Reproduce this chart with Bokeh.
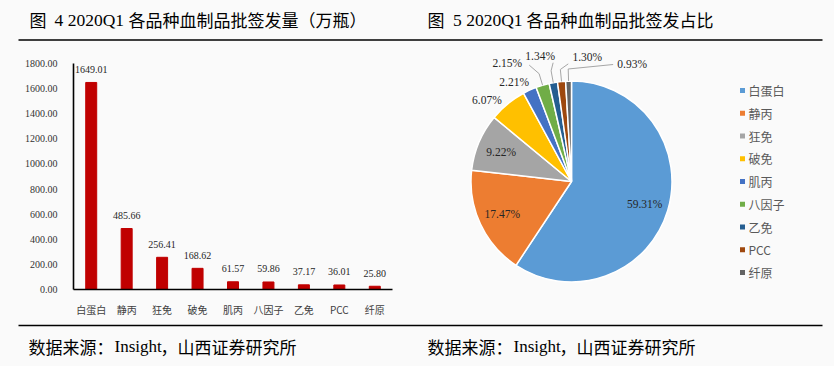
import math
from bokeh.plotting import figure
from bokeh.layouts import column, row
from bokeh.models import Range1d, FactorRange, FixedTicker, NumeralTickFormatter
from bokeh.core.properties import value
from bokeh.embed import file_html
from bokeh.resources import INLINE

# ---------------- data ----------------
categories = ["白蛋白", "静丙", "狂免", "破免", "肌丙", "八因子", "乙免", "PCC", "纤原"]
volumes = [1649.01, 485.66, 256.41, 168.62, 61.57, 59.86, 37.17, 36.01, 25.80]
shares = [59.31, 17.47, 9.22, 6.07, 2.21, 2.15, 1.34, 1.30, 0.93]
y_ticks = [0, 200, 400, 600, 800, 1000, 1200, 1400, 1600, 1800]

title_left = ["图", "4 2020Q1", "各品种血制品批签发量（万瓶）"]
title_right = ["图", "5 2020Q1", "各品种血制品批签发占比"]
source_parts = ["数据来源：", "Insight", "，山西证券研究所"]

# ---------------- style ----------------
BG = "#fafafa"
CJK = "Noto Sans CJK SC"
SERIF = "Liberation Serif"
BAR_COLOR = "#C00000"
pie_colors = ["#5B9BD5", "#ED7D31", "#A5A5A5", "#FFC000", "#4472C4",
              "#70AD47", "#255E91", "#9E480E", "#636363"]


def canvas(x0, y0, x1, y1):
    p = figure(width=x1 - x0, height=y1 - y0,
               x_range=Range1d(x0, x1), y_range=Range1d(-y1, -y0),
               x_axis_location=None, y_axis_location=None,
               output_backend="svg", toolbar_location=None, min_border=0)
    p.xgrid.grid_line_color = None
    p.ygrid.grid_line_color = None
    p.outline_line_color = None
    p.background_fill_color = BG
    p.border_fill_color = BG
    p.frame_align = False
    return p


def txt(p, x, y, s, font, size, color="#000000", align="left"):
    p.text(x=[x], y=[-y], text=[s], text_font=value(font),
           text_font_size=f"{size}px", text_color=color,
           text_align=align, text_baseline="middle")


# ---------------- header ----------------
hdr = canvas(0, 0, 834, 44)
title_fonts = [CJK, SERIF, CJK]
title_sizes = [17, 17.5, 17]
for xs, parts in (([29, 54, 128], title_left), ([427, 452.5, 526], title_right)):
    for x, s, f, fs in zip(xs, parts, title_fonts, title_sizes):
        txt(hdr, x, 19, s, f, fs)
hdr.segment(x0=[18], y0=[-39.5], x1=[822], y1=[-39.5], line_color="#000000", line_width=1.3)

# ---------------- bar chart ----------------
bar = figure(width=412, height=278,
             x_range=FactorRange(factors=categories), y_range=Range1d(0, 1800),
             output_backend="svg", toolbar_location=None,
             min_border_left=73, min_border_right=20, min_border_top=19, min_border_bottom=33)
bar.frame_align = False
bar.vbar(x=categories, top=volumes, width=0.31, fill_color=BAR_COLOR, line_color=BAR_COLOR)
bar.text(x=categories, y=volumes, text=[f"{v:.2f}" for v in volumes],
         y_offset=-13, text_align="center", text_baseline="middle",
         text_font=value(SERIF), text_font_size="10px", text_color="#262626")
bar.yaxis.ticker = FixedTicker(ticks=y_ticks)
bar.yaxis.formatter = NumeralTickFormatter(format="0.00")
bar.axis.major_tick_line_color = None
bar.axis.minor_tick_line_color = None
bar.axis.axis_line_color = "#000000"
bar.axis.axis_line_width = 1.6
bar.yaxis.major_label_standoff = 10
bar.yaxis.major_label_text_font = SERIF
bar.yaxis.major_label_text_font_size = "10px"
bar.yaxis.major_label_text_color = "#333333"
bar.xaxis.major_label_standoff = 6
bar.xaxis.major_label_text_font = CJK
bar.xaxis.major_label_text_font_size = "10px"
bar.xaxis.major_label_text_color = "#404040"
bar.xgrid.grid_line_color = None
bar.ygrid.grid_line_color = None
bar.outline_line_color = None
bar.background_fill_color = BG
bar.border_fill_color = BG

# ---------------- pie chart ----------------
pie = canvas(412, 44, 834, 322)
cx, cy, R = 571, 181, 100.5
total = sum(shares)
starts, ends, mids = [], [], []
cum = 0.0
for s in shares:
    a0 = cum / total
    cum += s
    a1 = cum / total
    starts.append(math.pi / 2 - 2 * math.pi * a0)
    ends.append(math.pi / 2 - 2 * math.pi * a1)
    mids.append(360.0 * (a0 + a1) / 2)

pie.wedge(x=cx, y=-cy, radius=R, start_angle=starts, end_angle=ends, direction="clock",
          fill_color=pie_colors, line_color="#ffffff", line_width=1.5)


def polar(theta_deg, r):
    t = math.radians(theta_deg)
    return cx + r * math.sin(t), cy - r * math.cos(t)


# label placement (angle clockwise from top, radius factor); None = inside at mid-angle
label_place = [None, None, None, (314, 1.17), (330, 1.14), (331.5, 1.34),
               (346, 1.29), (7.2, 1.25), (27.2, 1.32)]
# leader-line end offsets relative to label centre
leader_end = {5: (22, 2), 6: (13, 7), 7: (-19, 7), 8: (-19, 1)}

lx, ly, lt = [], [], []
for i, s in enumerate(shares):
    if label_place[i] is None:
        x, y = polar(mids[i], 0.76 * R)
    else:
        x, y = polar(label_place[i][0], label_place[i][1] * R)
    lx.append(x)
    ly.append(-y)
    lt.append(f"{s:.2f}%")
    if i in leader_end:
        ex, ey = polar(mids[i], R * 1.0)
        mx, my = polar(mids[i], R * 1.12)
        tx, ty = x + leader_end[i][0], y + leader_end[i][1]
        pie.line(x=[ex, mx, tx], y=[-ey, -my, -ty], line_color="#A6A6A6", line_width=1)

pie.text(x=lx, y=ly, text=lt, text_align="center", text_baseline="middle",
         text_font=value(SERIF), text_font_size="11.5px", text_color="#262626")

# legend
leg_y = [-(90 + i * 22.75) for i in range(len(categories))]
pie.scatter(x=[742] * len(categories), y=leg_y, marker="square", size=5,
            fill_color=pie_colors, line_color=None)
pie.text(x=[748] * len(categories), y=leg_y, text=categories, text_align="left",
         text_baseline="middle", text_font=value(CJK), text_font_size="12px",
         text_color="#595959")

# ---------------- footer ----------------
ftr = canvas(0, 322, 834, 366)
ftr.segment(x0=[18], y0=[-325], x1=[822], y1=[-325], line_color="#000000", line_width=1.3)
src_fonts = [CJK, SERIF, CJK]
for xs in ([28, 114, 160], [427, 513, 559]):
    for x, s, f in zip(xs, source_parts, src_fonts):
        txt(ftr, x, 346, s, f, 17)

layout = column(hdr, row(bar, pie), ftr)

html = file_html(layout, INLINE, title="chart")
html = html.replace("</head>", f"<style>body{{background:{BG};}}</style></head>", 1)
open("out.html", "w").write(html)
